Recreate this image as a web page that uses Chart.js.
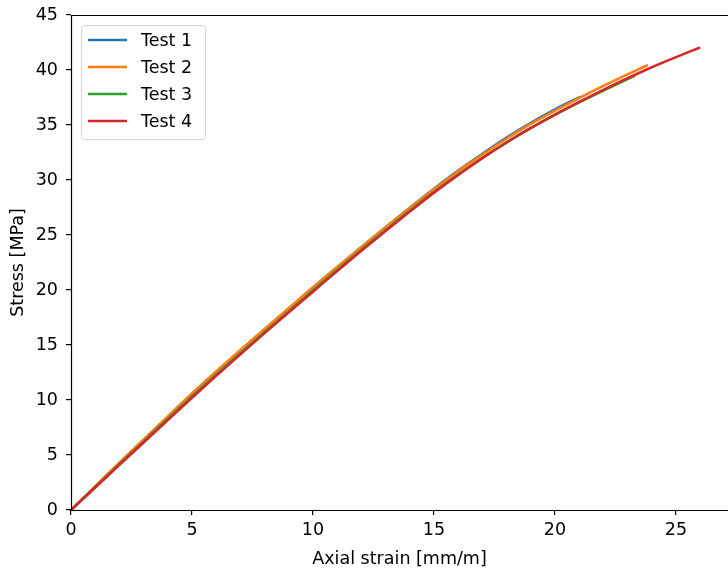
<!DOCTYPE html>
<html>
<head>
<meta charset="utf-8">
<script src="https://cdn.jsdelivr.net/npm/chart.js@4/dist/chart.umd.min.js"></script>
<style>
  html, body { margin: 0; padding: 0; background: #fff; }
  #wrap { width: 728px; height: 570px; }
</style>
</head>
<body>
<div id="wrap"><canvas id="stressChart"></canvas></div>
<script>

// ==========================================
// Data
// ==========================================

const seriesNames = ["Test 1", "Test 2", "Test 3", "Test 4"];
const seriesColors = ["#1f77b4", "#ff7f0e", "#2ca02c", "#d62728"];

const strain1 = [0, 1, 2, 3, 4, 5, 6, 7, 8, 9, 10, 11, 12, 13, 14, 15, 16, 17, 18, 19, 20, 21, 21.07];
const stress1 = [0, 2.13, 4.27, 6.37, 8.47, 10.55, 12.55, 14.5, 16.42, 18.33, 20.22, 22.08, 23.9, 25.7, 27.47, 29.2, 30.85, 32.38, 33.85, 35.2, 36.42, 37.5, 37.57];

const strain2 = [0, 1, 2, 3, 4, 5, 6, 7, 8, 9, 10, 11, 12, 13, 14, 15, 16, 17, 18, 19, 20, 21, 22, 23, 23.84];
const stress2 = [0, 2.15, 4.3, 6.4, 8.5, 10.6, 12.6, 14.55, 16.45, 18.35, 20.25, 22.1, 23.9, 25.7, 27.45, 29.15, 30.8, 32.3, 33.75, 35.1, 36.3, 37.45, 38.55, 39.6, 40.45];

const strain3 = [0, 1, 2, 3, 4, 5, 6, 7, 8, 9, 10, 11, 12, 13, 14, 15, 16, 17, 18, 19, 20, 21, 22, 23, 23.3];
const stress3 = [0, 2.08, 4.17, 6.22, 8.27, 10.3, 12.28, 14.23, 16.15, 18.05, 19.95, 21.82, 23.65, 25.44, 27.2, 28.9, 30.5, 32.0, 33.42, 34.72, 35.92, 37.06, 38.14, 39.18, 39.48];

const strain4 = [0, 1, 2, 3, 4, 5, 6, 7, 8, 9, 10, 11, 12, 13, 14, 15, 16, 17, 18, 19, 20, 21, 22, 23, 24, 25, 26];
const stress4 = [0, 2.05, 4.1, 6.14, 8.18, 10.2, 12.19, 14.15, 16.08, 17.98, 19.85, 21.73, 23.57, 25.37, 27.13, 28.85, 30.47, 31.99, 33.41, 34.73, 35.95, 37.1, 38.2, 39.25, 40.25, 41.17, 42.05];

const xTicks = [0, 5, 10, 15, 20, 25];
const yTicks = [0, 5, 10, 15, 20, 25, 30, 35, 40, 45];

const strains = [strain1, strain2, strain3, strain4];
const stresses = [stress1, stress2, stress3, stress4];


// ==========================================
// Helpers
// ==========================================

function toPoints(xs, ys) {
    return xs.map((x, i) => ({ x: x, y: ys[i] }));
}

const FONT = "'DejaVu Sans', sans-serif";
const FSIZE = 17.5;


// ==========================================
// Frame + legend plugin
// ==========================================

const framePlugin = {
    id: "frame",
    afterDatasetsDraw(chart) {
        const { ctx, chartArea } = chart;
        const L = Math.round(chartArea.left) + 0.5;
        const T = Math.round(chartArea.top) + 0.5;
        const B = Math.round(chartArea.bottom) + 0.5;
        ctx.save();
        ctx.strokeStyle = "#000";
        ctx.lineWidth = 1.2;
        ctx.beginPath();
        ctx.moveTo(L, B);
        ctx.lineTo(L, T);
        ctx.lineTo(chartArea.right + 2, T);
        ctx.moveTo(L, B);
        ctx.lineTo(chartArea.right + 2, B);
        ctx.stroke();

        // legend box
        const bx = 81.5, by = 25.5, bw = 124, bh = 114;
        ctx.fillStyle = "rgba(255,255,255,0.8)";
        ctx.strokeStyle = "#d6d6d6";
        ctx.lineWidth = 1;
        ctx.beginPath();
        ctx.roundRect(bx, by, bw, bh, 3);
        ctx.fill();
        ctx.stroke();

        ctx.font = FSIZE + "px " + FONT;
        ctx.textBaseline = "middle";
        ctx.textAlign = "left";
        seriesNames.forEach((name, i) => {
            const yy = 40 + i * 27;
            ctx.strokeStyle = seriesColors[i];
            ctx.lineWidth = 2.6;
            ctx.beginPath();
            ctx.moveTo(88, yy);
            ctx.lineTo(127, yy);
            ctx.stroke();
            ctx.fillStyle = "#000";
            ctx.fillText(name, 141, yy + 1);
        });
        ctx.restore();
    }
};


// ==========================================
// Chart
// ==========================================

const datasets = seriesNames.map((name, i) => ({
    label: name,
    data: toPoints(strains[i], stresses[i]),
    borderColor: seriesColors[i],
    backgroundColor: seriesColors[i],
    borderWidth: 2.6,
    pointRadius: 0,
    cubicInterpolationMode: "monotone",
    fill: false,
    order: 4 - i
}));

new Chart(document.getElementById("stressChart"), {
    type: "line",
    data: { datasets: datasets },
    options: {
        responsive: true,
        maintainAspectRatio: false,
        animation: false,
        layout: {
            autoPadding: false,
            padding: { top: 15, right: 0, left: 0, bottom: 0 }
        },
        plugins: {
            legend: { display: false },
            tooltip: { enabled: false }
        },
        scales: {
            x: {
                type: "linear",
                min: 0,
                max: 27.15,
                afterBuildTicks: s => { s.ticks = xTicks.map(v => ({ value: v })); },
                afterFit: s => {
                    s.height = 60;
                    s.paddingLeft = 0;
                    s.paddingRight = 0;
                },
                border: { display: false },
                grid: {
                    drawOnChartArea: false,
                    drawTicks: true,
                    tickLength: 5,
                    tickColor: "#000",
                    lineWidth: 1.2
                },
                ticks: {
                    color: "#000",
                    font: { family: FONT, size: FSIZE },
                    padding: 5,
                    maxRotation: 0
                },
                title: {
                    display: true,
                    text: "Axial strain [mm/m]",
                    color: "#000",
                    font: { family: FONT, size: FSIZE },
                    padding: { top: 2, bottom: 0 }
                }
            },
            y: {
                type: "linear",
                min: 0,
                max: 45,
                afterBuildTicks: s => { s.ticks = yTicks.map(v => ({ value: v })); },
                afterFit: s => {
                    s.width = 71;
                    s.paddingTop = 0;
                    s.paddingBottom = 0;
                },
                border: { display: false },
                grid: {
                    drawOnChartArea: false,
                    drawTicks: true,
                    tickLength: 5,
                    tickColor: "#000",
                    lineWidth: 1.2
                },
                ticks: {
                    color: "#000",
                    font: { family: FONT, size: FSIZE },
                    padding: 8
                },
                title: {
                    display: true,
                    text: "Stress [MPa]",
                    color: "#000",
                    font: { family: FONT, size: FSIZE },
                    padding: { top: 8, bottom: 0 }
                }
            }
        }
    },
    plugins: [framePlugin]
});

</script>
</body>
</html>
